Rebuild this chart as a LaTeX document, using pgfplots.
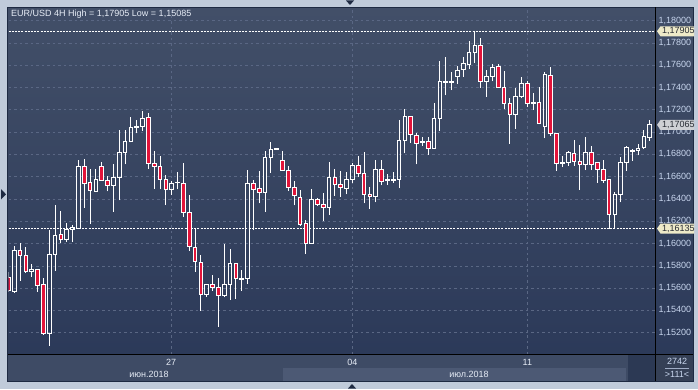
\documentclass[border=0pt]{standalone}
\usepackage{fontspec}
\setmainfont{Liberation Sans}
\usepackage{pgfplots}
\usepackage{pgfplotstable}
\pgfplotsset{compat=1.18}

\definecolor{framec}{RGB}{192,203,218}
\definecolor{paneltop}{RGB}{66,79,104}
\definecolor{panelbot}{RGB}{42,56,88}
\definecolor{gridc}{RGB}{90,103,132}
\definecolor{cred}{RGB}{226,20,58}
\definecolor{pricec}{RGB}{200,214,238}
\definecolor{tlabc}{RGB}{230,236,246}
\definecolor{barc}{RGB}{62,75,101}
\definecolor{barlight}{RGB}{76,89,116}
\definecolor{bardark}{RGB}{44,57,84}
\definecolor{boxyel}{RGB}{238,234,200}
\definecolor{boxgray}{RGB}{206,208,212}
\definecolor{boxtext}{RGB}{40,44,52}
\definecolor{navy}{RGB}{30,42,66}

\pgfplotsset{
  candleup/.style={draw=white, fill=none, line width=1pt, solid, mark=none, line join=miter, line cap=rect},
  candledown/.style={draw=white, fill=cred, line width=1pt, solid, mark=none, line join=miter, line cap=rect},
}

% EUR/USD 4H candles: index, open, high, low, close
\pgfplotstableread{
i o h l c
1 1.15700 1.15745 1.15565 1.15577
2 1.15574 1.15978 1.15559 1.15940
3 1.15940 1.16002 1.15667 1.15895
4 1.15895 1.15969 1.15745 1.15748
5 1.15751 1.15818 1.15703 1.15769
6 1.15769 1.15775 1.15568 1.15626
7 1.15637 1.15688 1.15182 1.15195
8 1.15195 1.16122 1.15085 1.15904
9 1.15904 1.16346 1.15757 1.16074
10 1.16083 1.16292 1.16008 1.16038
11 1.16038 1.16185 1.16017 1.16122
12 1.16128 1.16167 1.16017 1.16146
13 1.16137 1.16750 1.16135 1.16693
14 1.16693 1.16759 1.16322 1.16541
15 1.16550 1.16667 1.16178 1.16478
16 1.16469 1.16667 1.16466 1.16577
17 1.16693 1.16732 1.16565 1.16568
18 1.16568 1.16603 1.16469 1.16523
19 1.16523 1.16711 1.16286 1.16594
20 1.16594 1.17019 1.16388 1.16819
21 1.16819 1.17019 1.16711 1.16918
22 1.16918 1.17139 1.16909 1.17043
23 1.17043 1.17109 1.16990 1.17055
24 1.17050 1.17190 1.17013 1.17124
25 1.17133 1.17169 1.16672 1.16720
26 1.16720 1.16831 1.16492 1.16696
27 1.16696 1.16786 1.16487 1.16577
28 1.16577 1.16615 1.16346 1.16487
29 1.16487 1.16564 1.16439 1.16541
30 1.16546 1.16642 1.16487 1.16552
31 1.16541 1.16723 1.16241 1.16277
32 1.16281 1.16436 1.15936 1.15972
33 1.15969 1.16131 1.15748 1.15837
34 1.15826 1.15897 1.15398 1.15541
35 1.15541 1.15638 1.15523 1.15635
36 1.15635 1.15718 1.15577 1.15608
37 1.15608 1.15688 1.15254 1.15532
38 1.15532 1.15996 1.15518 1.15635
39 1.15635 1.15951 1.15496 1.15823
40 1.15823 1.15826 1.15505 1.15685
41 1.15682 1.15763 1.15577 1.15688
42 1.15685 1.16660 1.15640 1.16541
43 1.16541 1.16570 1.16125 1.16483
44 1.16496 1.16651 1.16361 1.16460
45 1.16460 1.16831 1.16286 1.16774
46 1.16774 1.16909 1.16636 1.16846
47 1.16846 1.16851 1.16844 1.16851
48 1.16747 1.16831 1.16655 1.16658
49 1.16658 1.16696 1.16472 1.16505
50 1.16505 1.16564 1.16343 1.16433
51 1.16415 1.16481 1.16160 1.16173
52 1.16182 1.16212 1.15909 1.16002
53 1.16002 1.16490 1.16000 1.16397
54 1.16397 1.16406 1.16337 1.16352
55 1.16352 1.16451 1.16205 1.16326
56 1.16326 1.16732 1.16259 1.16594
57 1.16594 1.16672 1.16427 1.16532
58 1.16532 1.16649 1.16421 1.16505
59 1.16496 1.16640 1.16442 1.16573
60 1.16573 1.16720 1.16546 1.16705
61 1.16705 1.16789 1.16600 1.16630
62 1.16630 1.16822 1.16361 1.16442
63 1.16442 1.16505 1.16308 1.16424
64 1.16424 1.16750 1.16370 1.16667
65 1.16667 1.16750 1.16523 1.16559
66 1.16566 1.16624 1.16526 1.16575
67 1.16568 1.16642 1.16544 1.16575
68 1.16571 1.17109 1.16496 1.16929
69 1.16929 1.17205 1.16810 1.17139
70 1.17139 1.17142 1.16905 1.16981
71 1.16972 1.16990 1.16711 1.16900
72 1.16909 1.16959 1.16876 1.16914
73 1.16920 1.16954 1.16795 1.16855
74 1.16855 1.17259 1.16850 1.17124
75 1.17124 1.17638 1.17010 1.17450
76 1.17447 1.17674 1.17331 1.17453
77 1.17447 1.17542 1.17378 1.17453
78 1.17501 1.17594 1.17435 1.17555
79 1.17564 1.17674 1.17497 1.17618
80 1.17609 1.17818 1.17564 1.17716
81 1.17716 1.17905 1.17623 1.17779
82 1.17779 1.17842 1.17399 1.17456
83 1.17456 1.17558 1.17318 1.17501
84 1.17501 1.17609 1.17456 1.17582
85 1.17591 1.17614 1.17400 1.17402
86 1.17402 1.17546 1.17205 1.17259
87 1.17259 1.17304 1.16896 1.17159
88 1.17159 1.17393 1.17031 1.17322
89 1.17322 1.17497 1.17304 1.17438
90 1.17438 1.17459 1.17228 1.17259
91 1.17255 1.17349 1.17199 1.17264
92 1.17264 1.17402 1.17076 1.17079
93 1.17049 1.17542 1.16945 1.17519
94 1.17510 1.17582 1.16968 1.16986
95 1.16986 1.16995 1.16654 1.16720
96 1.16717 1.16786 1.16687 1.16726
97 1.16729 1.16828 1.16699 1.16819
98 1.16810 1.16927 1.16699 1.16735
99 1.16738 1.16885 1.16481 1.16711
100 1.16711 1.16956 1.16660 1.16819
101 1.16819 1.16878 1.16660 1.16711
102 1.16729 1.16732 1.16546 1.16667
103 1.16667 1.16750 1.16546 1.16568
104 1.16577 1.16580 1.16135 1.16263
105 1.16263 1.16460 1.16140 1.16442
106 1.16442 1.16780 1.16370 1.16729
107 1.16729 1.16878 1.16654 1.16864
108 1.16828 1.16849 1.16744 1.16837
109 1.16837 1.16894 1.16792 1.16855
110 1.16864 1.17019 1.16846 1.16965
111 1.16950 1.17109 1.16923 1.17065
}\candles

\pgfplotstablegetrowsof{\candles}
\pgfmathtruncatemacro{\lastrow}{\pgfplotsretval-1}

\begin{document}
\begin{tikzpicture}[x=1pt,y=1pt]
\useasboundingbox (0,0) rectangle (698,389);
\fill[framec] (0,0) rectangle (698,389);
\shade[top color=paneltop, bottom color=panelbot] (8,8) rectangle (693,381.5);
\fill[barc] (8,8) rectangle (655,35);
\fill[barlight] (282.5,8) rectangle (626,21);
\fill[bardark] (627.5,8) rectangle (655,35);
\fill[barc!85!black] (655,8) rectangle (693,35);
\draw[navy, line width=1pt] (7.5,7.5) rectangle (693.5,381.5);

\begin{axis}[
  at={(8.5pt,35pt)}, anchor=south west,
  width=646.5pt, height=346pt, scale only axis,
  xmin=1, xmax=111.89, ymin=1.15009, ymax=1.18114,
  axis line style={draw=none},
  major tick length=0pt, tick style={draw=none},
  xtick={28.9,60,90}, xticklabels={27,04,11},
  ytick={1.152,1.154,1.156,1.158,1.160,1.162,1.164,1.166,1.168,1.170,1.172,1.174,1.176,1.178,1.180},
  yticklabel pos=right,
  yticklabel={\pgfmathprintnumber[fixed,fixed zerofill,precision=5,use comma]{\tick}},
  grid=major,
  major grid style={gridc, dash pattern=on 2.5pt off 3pt, line width=0.7pt},
  tick label style={font=\fontsize{9}{10}\selectfont},
  yticklabel style={text=pricec},
  xticklabel style={text=tlabc, anchor=center, yshift=-8pt},
  /pgf/number format/assume math mode=true,
  clip mode=individual,
  unbounded coords=jump,
]
\addplot[white, line width=0.8pt, dash pattern=on 2pt off 1.2pt, mark=none] coordinates {(1,1.17905) (111.89,1.17905)};
\addplot[white, line width=0.8pt, dash pattern=on 2pt off 1.2pt, mark=none] coordinates {(1,1.16135) (111.89,1.16135)};
\pgfplotsforeachungrouped \k in {0,...,\lastrow}{%
  \pgfplotstablegetelem{\k}{i}\of\candles \edef\ci{\pgfplotsretval}%
  \pgfplotstablegetelem{\k}{o}\of\candles \edef\co{\pgfplotsretval}%
  \pgfplotstablegetelem{\k}{h}\of\candles \edef\ch{\pgfplotsretval}%
  \pgfplotstablegetelem{\k}{l}\of\candles \edef\cl{\pgfplotsretval}%
  \pgfplotstablegetelem{\k}{c}\of\candles \edef\cc{\pgfplotsretval}%
  \pgfmathsetmacro\xl{\ci-0.315}%
  \pgfmathsetmacro\xr{\ci+0.315}%
  \ifdim\cc pt<\co pt
    \edef\bl{\cc}\edef\bh{\co}\def\cstyle{candledown}%
  \else
    \edef\bl{\co}\edef\bh{\cc}\def\cstyle{candleup}%
  \fi
  \edef\temp{%
    \noexpand\addplot[white, line width=1pt, mark=none, forget plot] coordinates {(\ci,\cl) (\ci,\bl) (\ci,nan) (\ci,\bh) (\ci,\ch)};
    \noexpand\addplot[\cstyle, forget plot] coordinates {(\xl,\bl) (\xr,\bl) (\xr,\bh) (\xl,\bh) (\xl,\bl)};
  }%
  \temp
}
\coordinate (phi) at (axis cs:111.89,1.17905);
\coordinate (plast) at (axis cs:111.89,1.17065);
\coordinate (plo) at (axis cs:111.89,1.16135);
\end{axis}

\draw[black, line width=1pt] (655,8) -- (655,381.5);
\draw[black, line width=1pt] (8,35) -- (693,35);

\foreach \p/\t/\col in {phi/{1,17905}/boxyel, plast/{1,17065}/boxgray, plo/{1,16135}/boxyel}{
  \begin{scope}[shift={(\p)}]
    \fill[\col] (2pt,0) -- (5.5pt,5pt) -- (39pt,5pt) -- (39pt,-5pt) -- (5.5pt,-5pt) -- cycle;
    \node[anchor=west, inner sep=0pt, text=boxtext, font=\fontsize{9}{10}\selectfont] at (7pt,0) {\t};
  \end{scope}
}

\node[anchor=west, inner sep=0pt, text=tlabc, font=\fontsize{9}{10}\selectfont] at (11,374.5) {EUR/USD 4H High = 1,17905 Low = 1,15085};
\node[text=tlabc, font=\fontsize{9}{10}\selectfont, inner sep=0pt] at (149,15) {июн.2018};
\node[text=tlabc, font=\fontsize{9}{10}\selectfont, inner sep=0pt] at (469,15) {июл.2018};
\node[text=pricec, font=\fontsize{9}{10}\selectfont, inner sep=0pt] at (677,27.5) {2742};
\draw[pricec!70!barc, line width=0.6pt] (665,20.8) -- (689,20.8);
\node[text=pricec, font=\fontsize{9}{10}\selectfont, inner sep=0pt] at (677,14.5) {>111<};

\fill[navy] (1,200) -- (1,189.5) -- (6,194.7) -- cycle;
\fill[navy] (346,388.5) -- (354,388.5) -- (350,384) -- cycle;
\fill[navy] (348,0.5) -- (356,0.5) -- (352,5) -- cycle;
\end{tikzpicture}
\end{document}
